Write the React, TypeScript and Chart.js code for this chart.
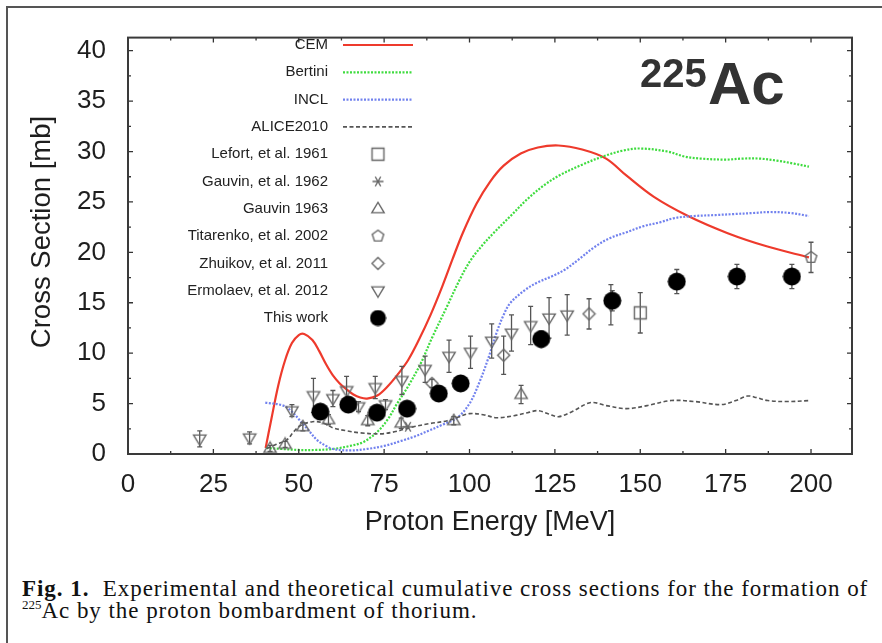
import React, { useEffect, useRef } from 'react';
import { Chart, registerables } from 'chart.js';

Chart.register(...registerables);

// ---------------- Data ----------------
const cemEnergy = [40.3, 42, 44, 46, 48, 50, 51.6, 54, 56, 58, 60, 62, 64, 66, 68, 70, 73, 76, 79, 82, 85, 88.6, 92, 95, 98, 102, 106, 110, 115, 120, 126, 133, 140, 146, 154, 164, 175.6, 187, 199.4];
const cemValues = [0.6, 3.5, 6.8, 9.3, 11.0, 11.8, 11.9, 11.3, 10.2, 8.9, 7.8, 7.0, 6.4, 5.9, 5.6, 5.5, 5.8, 6.7, 7.9, 9.3, 11.2, 13.8, 16.6, 19.3, 21.9, 24.8, 27.0, 28.6, 29.8, 30.4, 30.6, 30.2, 29.3, 27.6, 25.5, 23.6, 21.9, 20.6, 19.5];

const bertiniEnergy = [40.5, 45, 50, 55, 60, 65, 69, 73, 76, 78.8, 82, 85.6, 89, 93.5, 97, 100.3, 104, 107, 112, 117, 122, 126.7, 133, 139, 145, 150, 158, 163, 167.7, 175, 180, 185, 190, 195, 199.4];
const bertiniValues = [0.6, 0.5, 0.4, 0.4, 0.5, 0.8, 1.2, 2.2, 3.4, 5.0, 6.7, 8.9, 11.5, 14.7, 17.2, 19.2, 20.8, 21.9, 23.6, 25.3, 26.7, 27.7, 28.7, 29.5, 30.1, 30.3, 30.0, 29.5, 29.3, 29.2, 29.3, 29.3, 29.1, 28.8, 28.5];

const inclEnergy = [40.2, 45.5, 48, 50.4, 53, 55.3, 58, 60, 65, 70, 75, 80, 83.6, 88, 92, 96.4, 100, 103, 105.5, 108, 110, 112, 116, 119.8, 124, 128, 132, 136.5, 141, 146, 151, 156, 160, 165.7, 172, 177.5, 183, 188, 194, 199.4];
const inclValues = [5.1, 4.8, 4.2, 3.3, 2.3, 1.4, 0.8, 0.5, 0.35, 0.5, 0.8, 1.3, 1.7, 2.3, 2.9, 3.6, 5.0, 7.2, 9.5, 12.1, 13.8, 15.0, 16.2, 17.0, 17.6, 18.3, 19.3, 20.5, 21.4, 22.0, 22.6, 23.0, 23.4, 23.6, 23.7, 23.8, 23.9, 24.0, 23.9, 23.6];

const aliceEnergy = [40.7, 43, 46.5, 48.5, 50.4, 54, 57, 60, 64, 68, 74, 78, 83.6, 88, 93.5, 97, 100, 104, 108, 113, 117, 120, 123, 126, 130, 135.5, 140, 146, 152, 159, 166, 173.6, 178, 181.4, 184, 187.3, 193, 199.4];
const aliceValues = [0.55, 0.9, 1.4, 2.2, 2.8, 3.2, 3.1, 2.6, 2.3, 2.1, 2.0, 2.2, 2.7, 3.0, 3.3, 3.7, 4.0, 3.9, 3.6, 3.8, 4.1, 4.3, 4.0, 3.7, 4.2, 5.1, 4.8, 4.5, 4.8, 5.3, 5.2, 4.9, 5.3, 5.75, 5.6, 5.3, 5.2, 5.3];

const lefortEnergy = [150];
const lefortValues = [14.0];
const lefortErrors = [2.0];

const gauvin62Energy = [82];
const gauvin62Values = [2.7];

const gauvin63Energy = [41.6, 46, 51.2, 58.7, 70.2, 80, 95.4, 115.1];
const gauvin63Values = [0.55, 0.95, 2.7, 3.4, 3.3, 3.05, 3.3, 5.9];
const gauvin63Errors = [0.3, 0.3, 0.4, 0.5, 0.5, 0.5, 0.4, 0.9];

const titarenkoEnergy = [200];
const titarenkoValues = [19.5];
const titarenkoErrors = [1.5];

const zhuikovEnergy = [89, 110, 135];
const zhuikovValues = [7.0, 9.8, 13.9];
const zhuikovErrors = [0.4, 1.9, 1.5];

const ermolaevEnergy = [21, 35.6, 48, 54.3, 60, 64, 67.5, 72.4, 75.4, 80.2, 87, 94, 100.3, 106.5, 112.3, 117.9, 123.3, 128.6, 141.4];
const ermolaevValues = [1.5, 1.6, 4.3, 5.8, 5.5, 6.3, 4.7, 6.6, 4.9, 7.3, 8.4, 9.7, 10.1, 11.2, 12.0, 12.75, 13.5, 13.8, 14.8];
const ermolaevErrors = [0.8, 0.6, 0.6, 1.7, 0.8, 1.4, 0.5, 1.1, 0.5, 1.4, 1.3, 1.6, 1.6, 1.7, 1.8, 1.9, 2.0, 2.0, 2.0];

const thisWorkEnergy = [56.3, 64.5, 72.9, 81.7, 91, 97.4, 121, 141.8, 160.7, 178.3, 194.4];
const thisWorkValues = [4.2, 4.9, 4.1, 4.5, 6.0, 7.0, 11.4, 15.2, 17.1, 17.6, 17.6];
const thisWorkErrors = [0.4, 0.4, 0.4, 0.4, 0.5, 0.5, 0.8, 1.0, 1.2, 1.2, 1.2];

const xMajorTicks = [0, 25, 50, 75, 100, 125, 150, 175, 200];
const xMinorTicks = [12.5, 37.5, 62.5, 87.5, 112.5, 137.5, 162.5, 187.5];
const yMajorTicks = [0, 5, 10, 15, 20, 25, 30, 35, 40];
const yMinorTicks = [2.5, 7.5, 12.5, 17.5, 22.5, 27.5, 32.5, 37.5];

// ---------------- Styles ----------------
const RED = '#ee3a2c';
const GREEN = '#3fdc3f';
const BLUE = '#7282ee';
const GRAY = '#555555';
const MARK = '#666666';
const SANS = '"Liberation Sans", Arial, Helvetica, sans-serif';

function makeMarker(kind: string, size: number): HTMLCanvasElement {
  const c = document.createElement('canvas');
  c.width = size;
  c.height = size;
  const g = c.getContext('2d') as CanvasRenderingContext2D;
  const cx = size / 2;
  const cy = size / 2;
  const r = size / 2 - 1.5;
  g.strokeStyle = MARK;
  g.lineWidth = 1.4;
  g.beginPath();
  if (kind === 'square') {
    g.rect(cx - r * 0.85, cy - r * 0.85, r * 1.7, r * 1.7);
  } else if (kind === 'triUp') {
    g.moveTo(cx, cy - r);
    g.lineTo(cx + r * 0.95, cy + r * 0.6);
    g.lineTo(cx - r * 0.95, cy + r * 0.6);
    g.closePath();
  } else if (kind === 'triDown') {
    g.moveTo(cx, cy + r);
    g.lineTo(cx + r * 0.95, cy - r * 0.6);
    g.lineTo(cx - r * 0.95, cy - r * 0.6);
    g.closePath();
  } else if (kind === 'diamond') {
    g.moveTo(cx, cy - r);
    g.lineTo(cx + r, cy);
    g.lineTo(cx, cy + r);
    g.lineTo(cx - r, cy);
    g.closePath();
  } else if (kind === 'pentagon') {
    for (let i = 0; i < 5; i++) {
      const a = -Math.PI / 2 + (i * 2 * Math.PI) / 5;
      const px = cx + r * Math.cos(a);
      const py = cy + r * Math.sin(a);
      if (i === 0) g.moveTo(px, py);
      else g.lineTo(px, py);
    }
    g.closePath();
  } else if (kind === 'star') {
    g.moveTo(cx - r, cy);
    g.lineTo(cx + r, cy);
    for (const a of [Math.PI / 3, (2 * Math.PI) / 3]) {
      g.moveTo(cx - r * Math.cos(a), cy - r * Math.sin(a));
      g.lineTo(cx + r * Math.cos(a), cy + r * Math.sin(a));
    }
  } else if (kind === 'circle') {
    g.arc(cx, cy, size / 2 - 0.5, 0, Math.PI * 2);
    g.fillStyle = '#000';
    g.fill();
    return c;
  }
  g.stroke();
  return c;
}

function pts(xs: number[], ys: number[]) {
  return xs.map((x, i) => ({ x, y: ys[i] }));
}

export default function App() {
  const ref = useRef<HTMLCanvasElement | null>(null);

  useEffect(() => {
    const canvas = ref.current;
    if (!canvas) return;

    const mk = {
      square: makeMarker('square', 17),
      star: makeMarker('star', 14),
      triUp: makeMarker('triUp', 16),
      pentagon: makeMarker('pentagon', 15),
      diamond: makeMarker('diamond', 15),
      triDown: makeMarker('triDown', 16),
      circle: makeMarker('circle', 19),
      circleLegend: makeMarker('circle', 17),
    };

    const lineDs = (label: string, xs: number[], ys: number[], color: string, dash: number[], width: number) => ({
      type: 'line' as const,
      label,
      data: pts(xs, ys),
      borderColor: color,
      borderWidth: width,
      borderDash: dash,
      pointRadius: 0,
      fill: false,
      tension: 0.35,
      order: 2,
    });

    const pointDs = (label: string, xs: number[], ys: number[], img: HTMLCanvasElement, errors?: number[]) => ({
      type: 'scatter' as const,
      label,
      data: pts(xs, ys),
      pointStyle: img,
      pointRadius: 8,
      showLine: false,
      errors,
      order: 1,
    });

    const errorBarPlugin = {
      id: 'errorBars',
      beforeDatasetDraw(chart: any, args: any) {
        const ds = chart.data.datasets[args.index];
        if (!ds.errors) return;
        const { ctx } = chart;
        const xs = chart.scales.x;
        const ys = chart.scales.y;
        ctx.save();
        ctx.strokeStyle = GRAY;
        ctx.lineWidth = 1.3;
        ds.data.forEach((p: any, i: number) => {
          const e = ds.errors[i];
          const px = xs.getPixelForValue(p.x);
          const top = ys.getPixelForValue(p.y + e);
          const bot = ys.getPixelForValue(p.y - e);
          ctx.beginPath();
          ctx.moveTo(px, top);
          ctx.lineTo(px, bot);
          ctx.moveTo(px - 2.5, top);
          ctx.lineTo(px + 2.5, top);
          ctx.moveTo(px - 2.5, bot);
          ctx.lineTo(px + 2.5, bot);
          ctx.stroke();
        });
        ctx.restore();
      },
    };

    const framePlugin = {
      id: 'frameTicks',
      afterDatasetsDraw(chart: any) {
        const { ctx, chartArea: a } = chart;
        const xs = chart.scales.x;
        const ys = chart.scales.y;
        ctx.save();
        ctx.strokeStyle = '#333';
        ctx.lineWidth = 1.3;
        ctx.beginPath();
        const tick = (vals: number[], len: number) => {
          vals.forEach((v) => {
            const px = xs.getPixelForValue(v);
            ctx.moveTo(px, a.bottom);
            ctx.lineTo(px, a.bottom - len);
            ctx.moveTo(px, a.top);
            ctx.lineTo(px, a.top + len);
          });
        };
        const tickY = (vals: number[], len: number) => {
          vals.forEach((v) => {
            const py = ys.getPixelForValue(v);
            ctx.moveTo(a.left, py);
            ctx.lineTo(a.left + len, py);
            ctx.moveTo(a.right, py);
            ctx.lineTo(a.right - len, py);
          });
        };
        tick(xMajorTicks, 5);
        tick(xMinorTicks, 3);
        tickY(yMajorTicks, 5);
        tickY(yMinorTicks, 3);
        ctx.stroke();
        ctx.lineWidth = 2;
        ctx.strokeStyle = '#3a3a3a';
        ctx.strokeRect(a.left, a.top, a.right - a.left, a.bottom - a.top);
        ctx.restore();
      },
    };

    const yTitlePlugin = {
      id: 'yTitle',
      afterDraw(chart: any) {
        const { ctx } = chart;
        ctx.save();
        ctx.translate(42, 232);
        ctx.rotate(-Math.PI / 2);
        ctx.font = `27.5px ${SANS}`;
        ctx.fillStyle = '#1e1e1e';
        ctx.textAlign = 'center';
        ctx.textBaseline = 'middle';
        ctx.fillText('Cross Section [mb]', 0, 0);
        ctx.restore();
      },
    };

    const legendRows: { label: string; line?: { color: string; dash: number[]; width: number }; img?: HTMLCanvasElement }[] = [
      { label: 'CEM', line: { color: RED, dash: [], width: 2.2 } },
      { label: 'Bertini', line: { color: GREEN, dash: [2, 1.5], width: 2.2 } },
      { label: 'INCL', line: { color: BLUE, dash: [2, 1.5], width: 2.2 } },
      { label: 'ALICE2010', line: { color: GRAY, dash: [4, 2.5], width: 1.6 } },
      { label: 'Lefort, et al. 1961', img: mk.square },
      { label: 'Gauvin, et al. 1962', img: mk.star },
      { label: 'Gauvin 1963', img: mk.triUp },
      { label: 'Titarenko, et al. 2002', img: mk.pentagon },
      { label: 'Zhuikov, et al. 2011', img: mk.diamond },
      { label: 'Ermolaev, et al. 2012', img: mk.triDown },
      { label: 'This work', img: mk.circleLegend },
    ];

    const legendPlugin = {
      id: 'gnuLegend',
      afterDraw(chart: any) {
        const { ctx } = chart;
        ctx.save();
        ctx.font = `15px ${SANS}`;
        ctx.textAlign = 'right';
        ctx.textBaseline = 'middle';
        legendRows.forEach((row, i) => {
          const y = 45 + i * 27.3;
          ctx.fillStyle = '#222';
          ctx.fillText(row.label, 328, y);
          if (row.line) {
            ctx.strokeStyle = row.line.color;
            ctx.lineWidth = row.line.width;
            ctx.setLineDash(row.line.dash);
            ctx.beginPath();
            ctx.moveTo(343, y);
            ctx.lineTo(413, y);
            ctx.stroke();
            ctx.setLineDash([]);
          } else if (row.img) {
            ctx.drawImage(row.img, 378 - row.img.width / 2, y - row.img.height / 2);
          }
        });
        ctx.restore();
      },
    };

    const chart = new Chart(canvas, {
      type: 'scatter',
      data: {
        datasets: [
          pointDs('This work', thisWorkEnergy, thisWorkValues, mk.circle, thisWorkErrors),
          pointDs('Lefort, et al. 1961', lefortEnergy, lefortValues, mk.square, lefortErrors),
          pointDs('Gauvin, et al. 1962', gauvin62Energy, gauvin62Values, mk.star),
          pointDs('Gauvin 1963', gauvin63Energy, gauvin63Values, mk.triUp, gauvin63Errors),
          pointDs('Titarenko, et al. 2002', titarenkoEnergy, titarenkoValues, mk.pentagon, titarenkoErrors),
          pointDs('Zhuikov, et al. 2011', zhuikovEnergy, zhuikovValues, mk.diamond, zhuikovErrors),
          pointDs('Ermolaev, et al. 2012', ermolaevEnergy, ermolaevValues, mk.triDown, ermolaevErrors),
          lineDs('ALICE2010', aliceEnergy, aliceValues, GRAY, [4, 2.5], 1.6),
          lineDs('INCL', inclEnergy, inclValues, BLUE, [2, 1.5], 2.2),
          lineDs('Bertini', bertiniEnergy, bertiniValues, GREEN, [2, 1.5], 2.2),
          lineDs('CEM', cemEnergy, cemValues, RED, [], 2.2),
        ] as any,
      },
      options: {
        responsive: false,
        animation: false,
        devicePixelRatio: 1,
        layout: { padding: { left: 0, top: 31, right: 30, bottom: 0 } },
        plugins: { legend: { display: false }, tooltip: { enabled: false } },
        scales: {
          x: {
            type: 'linear',
            min: 0,
            max: 212,
            afterFit: (s: any) => {
              s.height = 106;
            },
            grid: { display: false, drawTicks: false },
            border: { display: false },
            ticks: {
              stepSize: 25,
              includeBounds: false,
              padding: 15,
              color: '#1e1e1e',
              font: { family: SANS, size: 26 },
              maxRotation: 0,
            },
            title: {
              display: true,
              text: 'Proton Energy [MeV]',
              color: '#1e1e1e',
              font: { family: SANS, size: 27 },
              padding: { top: 0, bottom: 21 },
            },
          },
          y: {
            type: 'linear',
            min: 0,
            max: 41.3,
            afterFit: (s: any) => {
              s.width = 128;
            },
            grid: { display: false, drawTicks: false },
            border: { display: false },
            ticks: {
              stepSize: 5,
              includeBounds: false,
              padding: 22,
              color: '#1e1e1e',
              font: { family: SANS, size: 26 },
            },
            title: { display: false },
          },
        },
      } as any,
      plugins: [errorBarPlugin, framePlugin, legendPlugin, yTitlePlugin],
    });

    return () => chart.destroy();
  }, []);

  return (
    <div
      style={{
        position: 'absolute',
        left: 0,
        top: 0,
        width: 882,
        height: 643,
        overflow: 'hidden',
        background: '#fff',
      }}
    >
      <div
        style={{
          position: 'absolute',
          left: 6,
          top: 6,
          width: 1000,
          height: 1000,
          border: '2px solid #555',
        }}
      />
      <canvas ref={ref} width={882} height={560} style={{ position: 'absolute', left: 0, top: 0 }} />
      <div
        style={{
          position: 'absolute',
          left: 640,
          top: 53,
          fontFamily: SANS,
          fontWeight: 'bold',
          fontSize: 40,
          lineHeight: 1,
          color: '#333',
        }}
      >
        225
      </div>
      <div
        style={{
          position: 'absolute',
          left: 708,
          top: 54,
          fontFamily: SANS,
          fontWeight: 'bold',
          fontSize: 60,
          lineHeight: 1,
          color: '#333',
        }}
      >
        Ac
      </div>
      <div
        style={{
          position: 'absolute',
          left: 22,
          top: 578,
          width: 870,
          fontFamily: '"Liberation Serif", "Times New Roman", serif',
          fontSize: 23,
          letterSpacing: '0.95px',
          lineHeight: '22px',
          color: '#111',
          whiteSpace: 'nowrap',
        }}
      >
        <div>
          <b>Fig. 1.</b>&nbsp; Experimental and theoretical cumulative cross sections for the formation of
        </div>
        <div>
          <sup style={{ fontSize: 13, letterSpacing: 0, verticalAlign: 'top', lineHeight: '13px', position: 'relative', top: -2 }}>225</sup>Ac by the proton bombardment of thorium.
        </div>
      </div>
    </div>
  );
}
